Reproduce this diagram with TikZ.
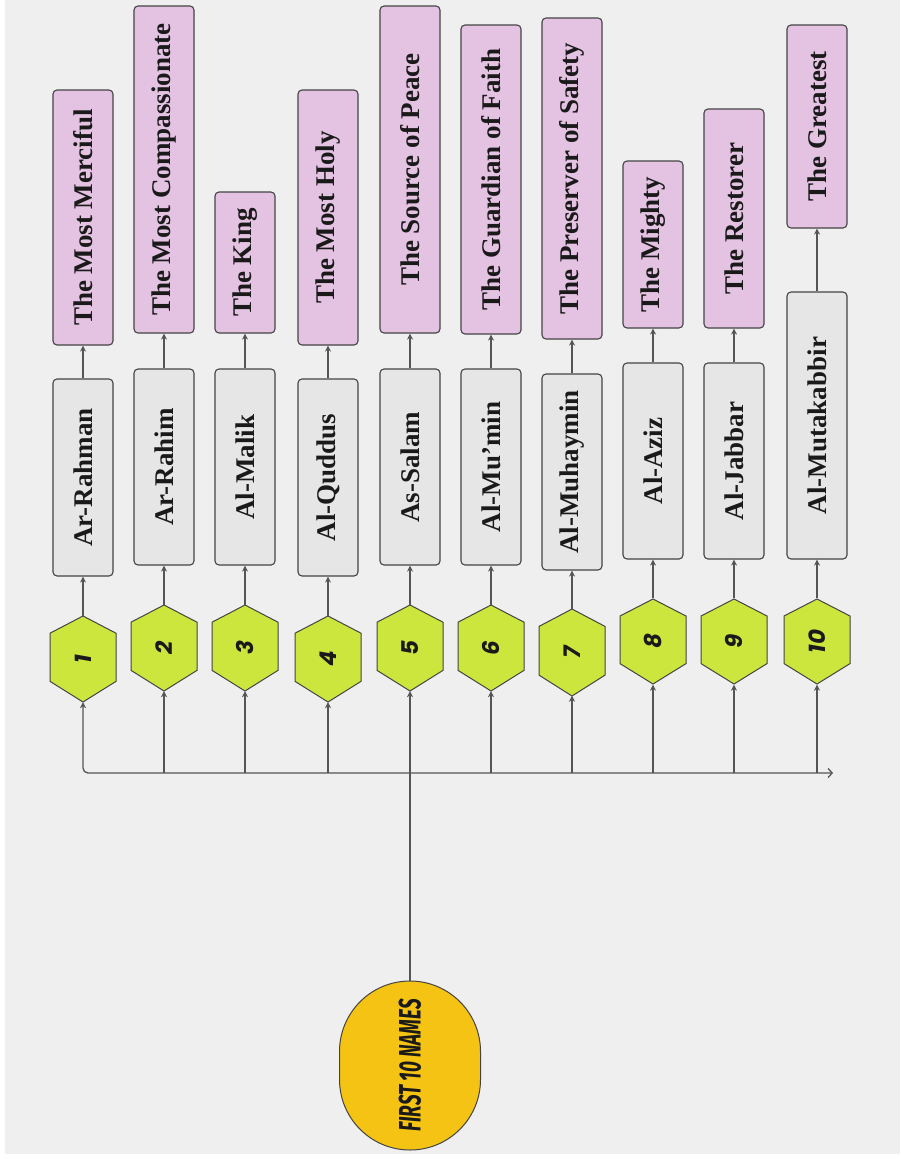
\documentclass[tikz,border=0pt]{standalone}
\usepackage{fontspec}
\usepackage{graphicx}
\setmainfont{Liberation Serif}
\newfontfamily\numfont{Poppins}
\newfontfamily\titlefont[FakeStretch=0.61]{Fira Sans}
\usetikzlibrary{arrows.meta,shapes.misc}
\definecolor{bgc}{HTML}{EFEFEF}
\definecolor{pinkc}{HTML}{E4C3E2}
\definecolor{greyc}{HTML}{E6E6E6}
\definecolor{limec}{HTML}{CDE63E}
\definecolor{goldc}{HTML}{F5C314}
\definecolor{linec}{HTML}{555555}
\definecolor{edgec}{HTML}{444444}
\definecolor{inkc}{HTML}{1A1A1A}
\tikzset{
  pinkbox/.style={draw=edgec, line width=1.1pt, fill=pinkc, rounded corners=4pt,
    minimum width=60pt, inner sep=0pt, text=inkc, font=\bfseries\fontsize{27}{30}\selectfont},
  greybox/.style={draw=edgec, line width=1.1pt, fill=greyc, rounded corners=4pt,
    minimum width=60pt, inner sep=0pt, text=inkc, font=\bfseries\fontsize{27}{30}\selectfont},
  hexnode/.style={minimum width=66pt, minimum height=86pt, inner sep=0pt, text=inkc,
    font=\numfont\bfseries\itshape\fontsize{23}{25}\selectfont},
  hexshape/.style={draw=edgec, line width=1pt, fill=limec},
  conn/.style={draw=linec, line width=1.3pt, -{Stealth[length=6pt,width=6pt]}},
  plain/.style={draw=linec, line width=1.3pt},
  rootnode/.style={rounded rectangle, draw=edgec, line width=1pt, fill=goldc,
    minimum width=169pt, minimum height=141pt, inner sep=0pt, rotate=90, text=inkc,
    font=\titlefont\bfseries\itshape\fontsize{31}{33}\selectfont}
}
\begin{document}
\begin{tikzpicture}[x=1pt,y=-1pt]
\useasboundingbox (0,0) rectangle (900,1159);
\fill[white] (0,0) rectangle (900,1159);
\fill[bgc] (5,0) rectangle (900,1154);

\foreach \i/\cx/\pt/\pb/\gt/\gb/\hta/\hbo/\nm/\mn in {
  1/83/90/345/379/576/616/702/Ar-Rahman/The Most Merciful,
  2/164/6/333/369/565/605/691/Ar-Rahim/The Most Compassionate,
  3/245/192/333/369/565/605/691/Al-Malik/The King,
  4/328/90/345/379/576/616/702/Al-Quddus/The Most Holy,
  5/410/6/333/369/565/605/691/As-Salam/The Source of Peace,
  6/491/25/334/369/565/605/691/Al-Mu’min/The Guardian of Faith,
  7/572/18/339/374/570/609/696/Al-Muhaymin/The Preserver of Safety,
  8/653/161/328/363/559/599/684/Al-Aziz/The Mighty,
  9/734/109/328/363/559/599/684/Al-Jabbar/The Restorer,
  10/817/25/228/292/559/599/684/Al-Mutakabbir/The Greatest}{
  % hexagon outline
  \pgfmathsetmacro{\hhh}{\hbo-\hta}
  \pgfmathsetmacro{\ya}{\hta+0.2*\hhh}
  \pgfmathsetmacro{\yb}{\hbo-0.24*\hhh}
  \path[hexshape] (\cx,\hta) -- (\cx+33,\ya) -- (\cx+33,\yb) -- (\cx,\hbo)
     -- (\cx-33,\yb) -- (\cx-33,\ya) -- cycle;
  \node[hexnode] (h\i) at (\cx,{(\hta+\hbo)/2}) {\rotatebox{90}{\i}};
  \node[greybox, minimum height={\gb-\gt}] (n\i) at (\cx,{(\gt+\gb)/2}) {\rotatebox{90}{\nm}};
  \node[pinkbox, minimum height={\pb-\pt}] (m\i) at (\cx,{(\pt+\pb)/2}) {\rotatebox{90}{\mn}};
  \draw[conn] (h\i.north) -- (n\i.south);
  \draw[conn] (n\i.north) -- (m\i.south);
  \coordinate (b\i) at (\cx,773);
  \ifnum\i>1 \draw[conn] (b\i) -- (h\i.south); \fi
}
\coordinate (bR) at (833,773);
\draw[plain, rounded corners=5pt, {Stealth[length=6pt,width=6pt]}-{Straight Barb[length=4pt,width=9pt]}] (h1.south) |- (bR);

\node[rootnode] (root) at (410,1065.5) {FIRST 10 NAMES};
\draw[plain] (root) -- (b5);
\end{tikzpicture}
\end{document}
